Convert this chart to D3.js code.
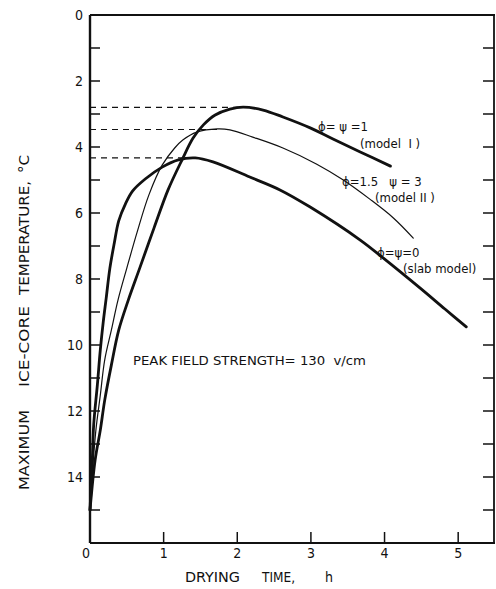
<!DOCTYPE html>
<html>
<head>
<meta charset="utf-8">
<script src="https://cdn.jsdelivr.net/npm/d3@7"></script>
<style>
  body { margin: 0; background: #fff; }
  svg { display: block; }
  text { font-family: 'DejaVu Sans Condensed', 'DejaVu Sans', sans-serif; fill: #111; }
</style>
</head>
<body>
<svg id="chart"></svg>
<script>
// drying time (h) vs maximum ice-core temperature (deg C, plotted downward)
const modelI = [
  [0, 15], [0.07, 13.48], [0.14, 12.58], [0.2, 11.67], [0.29, 10.61],
  [0.39, 9.55], [0.52, 8.64], [0.68, 7.64], [0.87, 6.45], [1.06, 5.3],
  [1.25, 4.39], [1.4, 3.73], [1.54, 3.33], [1.7, 3.03], [1.9, 2.85],
  [2.08, 2.79], [2.35, 2.88], [2.62, 3.09], [2.99, 3.42], [3.3, 3.76],
  [3.67, 4.15], [4.08, 4.58]
];
const modelII = [
  [0, 15], [0.04, 13.64], [0.08, 12.58], [0.14, 11.52], [0.2, 10.45],
  [0.29, 9.55], [0.38, 8.64], [0.5, 7.67], [0.64, 6.58], [0.8, 5.45],
  [0.98, 4.55], [1.15, 4.03], [1.26, 3.79], [1.45, 3.55], [1.73, 3.45],
  [1.9, 3.48], [2.21, 3.7], [2.62, 4.03], [3.08, 4.52], [3.44, 5.0],
  [3.8, 5.58], [4.12, 6.15], [4.39, 6.76]
];
const slabModel = [
  [0, 15], [0.03, 13.55], [0.05, 12.42], [0.1, 11.21], [0.14, 10.15],
  [0.18, 9.3], [0.22, 8.58], [0.27, 7.67], [0.33, 6.91], [0.39, 6.24],
  [0.48, 5.73], [0.58, 5.33], [0.75, 4.97], [0.98, 4.61], [1.2, 4.39],
  [1.43, 4.33], [1.67, 4.45], [2.17, 4.91], [2.58, 5.3], [2.99, 5.82],
  [3.67, 6.82], [3.98, 7.36], [4.48, 8.27], [4.82, 8.91], [5.11, 9.45]
];
const peaks = [[2.05, 2.8], [1.75, 3.47], [1.4, 4.33]];
const xTicks = [0, 1, 2, 3, 4, 5];
const yLabels = [0, 2, 4, 6, 8, 10, 12, 14];
const yTicks = d3.range(1, 16);

const width = 496, height = 589;
const svg = d3.select('#chart').attr('width', width).attr('height', height);

const x = d3.scaleLinear().domain([0, 5.5]).range([90, 495]);
const y = d3.scaleLinear().domain([0, 16]).range([15, 543]);

const frame = svg.append('g').attr('stroke', '#111').attr('fill', 'none');
// frame
frame.append('line').attr('x1', x(0)).attr('x2', x(0)).attr('y1', y(0)).attr('y2', y(16)).attr('stroke-width', 2.4);
frame.append('line').attr('x1', x(0)).attr('x2', x(5.5)).attr('y1', y(0)).attr('y2', y(0)).attr('stroke-width', 2);
frame.append('line').attr('x1', x(0)).attr('x2', x(5.5)).attr('y1', y(16)).attr('y2', y(16)).attr('stroke-width', 2);
frame.append('line').attr('x1', x(5.5) - 1).attr('x2', x(5.5) - 1).attr('y1', y(0)).attr('y2', y(16)).attr('stroke-width', 1.8);

// ticks on left and right (inside)
frame.selectAll('.lt').data(yTicks).enter().append('line')
    .attr('x1', x(0)).attr('x2', x(0) + 10)
    .attr('y1', (d) => y(d)).attr('y2', (d) => y(d)).attr('stroke-width', 1.5);
frame.selectAll('.rt').data(yTicks).enter().append('line')
    .attr('x1', x(5.5) - 1).attr('x2', x(5.5) - 12)
    .attr('y1', (d) => y(d)).attr('y2', (d) => y(d)).attr('stroke-width', 1.5);
frame.selectAll('.bt').data(xTicks.slice(1)).enter().append('line')
    .attr('x1', (d) => x(d)).attr('x2', (d) => x(d))
    .attr('y1', y(16)).attr('y2', y(16) - 11).attr('stroke-width', 1.5);

// tick labels
svg.selectAll('.yl').data(yLabels).enter().append('text')
    .attr('x', x(0) - 7).attr('y', (d) => y(d)).attr('dy', '0.36em')
    .attr('text-anchor', 'end').attr('font-size', 14).text((d) => d);
svg.selectAll('.xl').data(xTicks).enter().append('text')
    .attr('x', (d) => x(d) - (d === 0 ? 4 : 0)).attr('y', y(16) + 15)
    .attr('text-anchor', 'middle').attr('font-size', 14).text((d) => d);

// axis titles
const xTitle = [['DRYING', 185, 55], ['TIME,', 262, 33], ['h', 325, 8]];
svg.selectAll('.xt').data(xTitle).enter().append('text')
    .attr('x', (d) => d[1]).attr('y', 582).attr('font-size', 14)
    .attr('textLength', (d) => d[2]).attr('lengthAdjust', 'spacingAndGlyphs')
    .text((d) => d[0]);
const yTitle = [['MAXIMUM', 490, 80], ['ICE-CORE', 387, 81], ['TEMPERATURE,', 295, 114], ['°C', 173, 18]];
svg.selectAll('.yt').data(yTitle).enter().append('text')
    .attr('transform', (d) => 'translate(29,' + d[1] + ') rotate(-90)')
    .attr('font-size', 14).attr('textLength', (d) => d[2])
    .attr('lengthAdjust', 'spacingAndGlyphs').text((d) => d[0]);

// dashed peak guides
svg.selectAll('.peak').data(peaks).enter().append('line')
    .attr('x1', x(0)).attr('x2', (d) => x(d[0]))
    .attr('y1', (d) => y(d[1])).attr('y2', (d) => y(d[1]))
    .attr('stroke', '#111').attr('stroke-width', 1.1).attr('stroke-dasharray', '6,5');

// curves
const line = d3.line().x((d) => x(d[0])).y((d) => y(d[1])).curve(d3.curveCatmullRom.alpha(0.5));
const series = [
  {data: modelI, w: 2.8},
  {data: modelII, w: 1.2},
  {data: slabModel, w: 2.8},
];
svg.selectAll('.curve').data(series).enter().append('path')
    .attr('d', (d) => line(d.data)).attr('fill', 'none')
    .attr('stroke', '#111').attr('stroke-width', (d) => d.w)
    .attr('stroke-linejoin', 'round').attr('stroke-linecap', 'round');

// curve labels
const labels = [
  {t: 'ϕ= ψ =1', x: 318, y: 131},
  {t: '(model  I )', x: 360, y: 148},
  {t: 'ϕ=1.5   ψ = 3', x: 342, y: 186},
  {t: '(model II )', x: 375, y: 202},
  {t: 'ϕ=ψ=0', x: 377, y: 257},
  {t: '(slab model)', x: 403, y: 273},
];
svg.selectAll('.lab').data(labels).enter().append('text')
    .attr('x', (d) => d.x).attr('y', (d) => d.y).attr('font-size', 13)
    .attr('xml:space', 'preserve').text((d) => d.t);

svg.append('text').attr('x', 133).attr('y', 365).attr('font-size', 13)
    .attr('textLength', 233).attr('lengthAdjust', 'spacingAndGlyphs')
    .attr('xml:space', 'preserve')
    .text('PEAK FIELD STRENGTH= 130  v/cm');
</script>
</body>
</html>
